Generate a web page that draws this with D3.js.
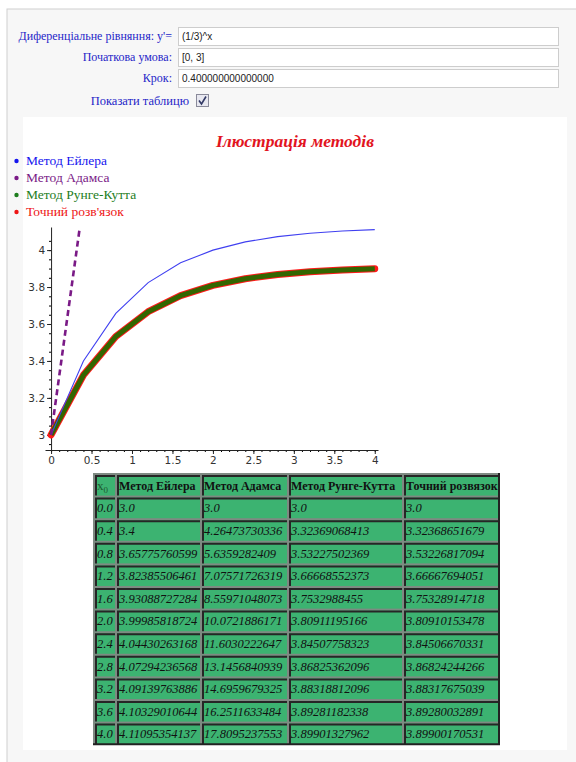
<!DOCTYPE html>
<html>
<head>
<meta charset="utf-8">
<script src="https://cdn.jsdelivr.net/npm/d3@7"></script>
<style>
  html, body { margin: 0; padding: 0; background: #fff; }
  svg { display: block; }
  .serif { font-family: 'Liberation Serif', 'Times New Roman', Times, serif; }
</style>
</head>
<body>
<script>
// ---- data ----
var xs = [0.0, 0.4, 0.8, 1.2, 1.6, 2.0, 2.4, 2.8, 3.2, 3.6, 4.0];
var xLabels = ['0.0', '0.4', '0.8', '1.2', '1.6', '2.0', '2.4', '2.8', '3.2', '3.6', '4.0'];
var euler = [3.0, 3.4, 3.65775760599, 3.82385506461, 3.93088727284, 3.99985818724,
  4.04430263168, 4.07294236568, 4.09139763886, 4.10329010644, 4.11095354137];
var adams = [3.0, 4.26473730336, 5.6359282409, 7.07571726319, 8.55971048073, 10.0721886171,
  11.6030222647, 13.1456840939, 14.6959679325, 16.2511633484, 17.8095237553];
var rungeKutta = [3.0, 3.32369068413, 3.53227502369, 3.66668552373, 3.7532988455, 3.80911195166,
  3.84507758323, 3.86825362096, 3.88318812096, 3.89281182338, 3.89901327962];
var exact = [3.0, 3.32368651679, 3.53226817094, 3.66667694051, 3.75328914718, 3.80910153478,
  3.84506670331, 3.86824244266, 3.88317675039, 3.89280032891, 3.89900170531];
var legendNames = ['Метод Ейлера', 'Метод Адамса', 'Метод Рунге-Кутта', 'Точний розв\'язок'];
var tableHeaders = ['Метод Ейлера', 'Метод Адамса', 'Метод Рунге-Кутта', 'Точний розвязок'];
var xTicks = [0, 0.5, 1, 1.5, 2, 2.5, 3, 3.5, 4];
var yTicks = [3, 3.2, 3.4, 3.6, 3.8, 4];

var formLabels = ['Диференціальне рівняння: y\'=', 'Початкова умова:', 'Крок:'];
var formValues = ['(1/3)^x', '[0, 3]', '0.400000000000000'];

var W = 576, H = 762;
var sans = '"Liberation Sans", Arial, sans-serif';

var svg = d3.select('body').append('svg')
  .attr('width', W)
  .attr('height', H);

// page panel
svg.append('rect').attr('x', 7).attr('y', 9).attr('width', W).attr('height', H)
  .attr('fill', '#f7f7f7').attr('stroke', '#cfcfcf');
svg.append('rect').attr('x', 23).attr('y', 117).attr('width', 544).attr('height', 633)
  .attr('fill', '#fff');

// ---- form ----
var rowsY = [36, 57, 78];
formLabels.forEach(function(t, i) {
  svg.append('text')
    .attr('class', 'serif')
    .attr('x', 172).attr('y', rowsY[i] + 4)
    .attr('text-anchor', 'end')
    .style('font-size', '12px')
    .attr('fill', '#2626c8')
    .text(t);
  svg.append('rect')
    .attr('x', 178.5).attr('y', rowsY[i] - 8.5).attr('width', 380).attr('height', 18)
    .attr('fill', '#fff').attr('stroke', '#cdcdcd');
  svg.append('text')
    .attr('x', 182).attr('y', rowsY[i] + 3.5)
    .style('font-family', sans).style('font-size', '10px')
    .attr('fill', '#222')
    .text(formValues[i]);
});
svg.append('text')
  .attr('class', 'serif')
  .attr('x', 189).attr('y', 104.5)
  .attr('text-anchor', 'end')
  .style('font-size', '12.5px')
  .attr('fill', '#2626c8')
  .text('Показати таблицю');
svg.append('rect').attr('x', 196.5).attr('y', 94.5).attr('width', 12).attr('height', 12)
  .attr('fill', '#e8e8f0').attr('stroke', '#8a8a9a');
svg.append('path').attr('d', 'M199,100.5 L201.5,104 L206,96.5')
  .attr('fill', 'none').attr('stroke', '#333a66').attr('stroke-width', 1.6);

// ---- title and legend ----
svg.append('text')
  .attr('class', 'serif')
  .attr('x', 295).attr('y', 147)
  .attr('text-anchor', 'middle')
  .style('font-size', '17.5px')
  .style('font-weight', 'bold').style('font-style', 'italic')
  .attr('fill', '#e2141e')
  .text('Ілюстрація методів');

var legendColors = ['#1515ee', '#7a1a86', '#1d7d1d', '#ee1515'];
var legend = svg.append('g').selectAll('g')
  .data(legendNames)
  .enter()
  .append('g')
  .attr('transform', function(d, i) { return 'translate(0,' + (165 + i * 17) + ')'; });
legend.append('circle')
  .attr('cx', 16.5).attr('cy', -4).attr('r', 2.2)
  .attr('fill', function(d, i) { return legendColors[i]; });
legend.append('text')
  .attr('class', 'serif')
  .attr('x', 26)
  .style('font-size', '13.5px')
  .attr('fill', function(d, i) { return legendColors[i]; })
  .text(function(d) { return d; });

// ---- chart ----
var x = d3.scaleLinear().domain([-0.075, 4.04]).range([45, 378]);
var y = d3.scaleLinear().domain([2.918, 4.125]).range([450, 227]);

var chart = svg.append('g');
chart.append('clipPath').attr('id', 'plotclip')
  .append('rect').attr('x', 40).attr('y', 227).attr('width', 345).attr('height', 225);

var minorX = d3.range(0, 41).map(function(i) { return i / 10; });
var minorY = d3.range(0, 23).map(function(i) { return 2.95 + i * 0.05; })
  .filter(function(v) { return v <= 4.125; });

chart.append('g')
  .attr('transform', 'translate(0,450)')
  .call(d3.axisBottom(x).tickValues(minorX).tickSize(2).tickSizeOuter(0).tickFormat(''))
  .call(function(g) { g.select('.domain').remove(); });
chart.append('g')
  .attr('transform', 'translate(51,0)')
  .call(d3.axisLeft(y).tickValues(minorY).tickSize(2).tickSizeOuter(0).tickFormat(''))
  .call(function(g) { g.select('.domain').remove(); });

var xAxis = chart.append('g')
  .attr('transform', 'translate(0,450)')
  .call(d3.axisBottom(x).tickValues(xTicks).tickSize(4).tickSizeOuter(0).tickPadding(3)
    .tickFormat(d3.format('')));
var yAxis = chart.append('g')
  .attr('transform', 'translate(' + x(0) + ',0)')
  .call(d3.axisLeft(y).tickValues(yTicks).tickSize(4).tickSizeOuter(0).tickPadding(2)
    .tickFormat(d3.format('')));
[xAxis, yAxis].forEach(function(g) {
  g.selectAll('text')
    .style('font-family', '"DejaVu Sans", sans-serif')
    .style('font-size', '10.5px')
    .attr('fill', '#333');
  g.selectAll('line, path').attr('stroke', '#222');
});

function lineFor(values) {
  return d3.line()
    .x(function(d, i) { return x(xs[i]); })
    .y(function(d) { return y(d); })(values);
}

var lines = chart.append('g').attr('clip-path', 'url(#plotclip)');
lines.append('path').attr('d', lineFor(exact))
  .attr('fill', 'none').attr('stroke', '#ff1a1a').attr('stroke-width', 7)
  .attr('stroke-linejoin', 'round').attr('stroke-linecap', 'round');
lines.append('path').attr('d', lineFor(rungeKutta))
  .attr('fill', 'none').attr('stroke', '#336600').attr('stroke-width', 5)
  .attr('stroke-linejoin', 'round');
lines.append('path').attr('d', lineFor(euler))
  .attr('fill', 'none').attr('stroke', '#4040f0').attr('stroke-width', 1.1);
lines.append('path').attr('d', lineFor(adams))
  .attr('fill', 'none').attr('stroke', '#7a1a86').attr('stroke-width', 2.6)
  .attr('stroke-dasharray', '6,4');

// ---- table ----
var colX = [93, 115, 200, 287, 402, 499];
var rowH = 22.6, tableTop = 473;
var nRows = xs.length + 1;
var table = svg.append('g');
table.append('rect')
  .attr('x', colX[0]).attr('y', tableTop)
  .attr('width', colX[5] - colX[0]).attr('height', rowH * nRows)
  .attr('fill', '#7e8a82');

function fmt(v) {
  return v === Math.floor(v) ? v.toFixed(1) : String(v);
}
var rows = [['x0'].concat(tableHeaders)];
xs.forEach(function(xv, i) {
  rows.push([xLabels[i], fmt(euler[i]), fmt(adams[i]), fmt(rungeKutta[i]), fmt(exact[i])]);
});

rows.forEach(function(row, r) {
  var y0 = tableTop + r * rowH;
  row.forEach(function(cell, c) {
    var cx = colX[c] + 2, cy = y0 + 2;
    var cw = colX[c + 1] - colX[c] - 2, ch = rowH - 2;
    table.append('rect').attr('x', cx).attr('y', cy).attr('width', cw).attr('height', ch)
      .attr('fill', '#3cb371');
    table.append('path')
      .attr('d', 'M' + (cx + 1) + ',' + (cy + ch) + 'V' + (cy + 1) + 'H' + (cx + cw))
      .attr('fill', 'none').attr('stroke', '#262626').attr('stroke-width', 2);
    var t = table.append('text')
      .attr('class', 'serif')
      .attr('x', cx + 2).attr('y', y0 + rowH / 2 + 5.5)
      .attr('fill', '#111');
    if (r === 0 && c === 0) {
      t.style('font-size', '13px').attr('fill', '#1f5a33');
      t.append('tspan').text('x');
      t.append('tspan').attr('dy', 3).style('font-size', '9px').text('0');
    } else if (r === 0) {
      t.style('font-size', '12px').style('font-weight', 'bold').text(cell);
    } else {
      t.style('font-size', '12.5px').style('font-style', 'italic').text(cell);
    }
  });
});
table.append('path')
  .attr('d', 'M' + colX[5] + ',' + tableTop + 'V' + (tableTop + rowH * nRows) + 'H' + colX[0])
  .attr('fill', 'none').attr('stroke', '#222').attr('stroke-width', 2);
</script>
</body>
</html>
